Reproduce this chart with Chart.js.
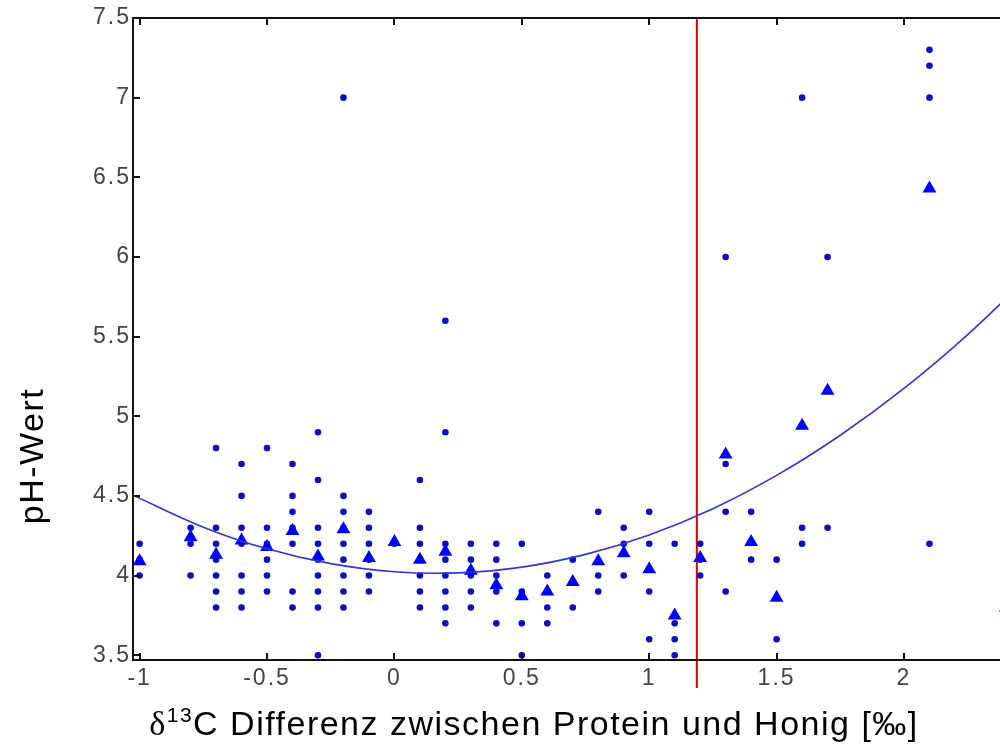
<!DOCTYPE html>
<html><head><meta charset="utf-8">
<style>
html,body{margin:0;padding:0;overflow:hidden;background:#fff;width:1000px;height:748px}
#wrap{position:relative;width:1040px;height:748px}
canvas{display:block}
</style>
<script src="https://cdn.jsdelivr.net/npm/chart.js@4.4.1/dist/chart.umd.min.js"></script>
</head><body><div id="wrap"><canvas id="c" width="1040" height="748"></canvas></div>
<script>
// δ13C difference columns (x) and individual pH values read per column
const dotX = [-1, -0.8, -0.7, -0.6, -0.5, -0.4, -0.3, -0.2, -0.1, 0, 0.1, 0.2, 0.3, 0.4, 0.5, 0.6, 0.7, 0.8, 0.9, 1.0, 1.1, 1.2, 1.3, 1.4, 1.5, 1.6, 1.7, 2.1, 2.4];
const dotY = [
  [4.2, 4.1, 4.0],
  [4.3, 4.2, 4.0],
  [4.8, 4.3, 4.2, 4.1, 4.0, 3.9, 3.8],
  [4.7, 4.5, 4.3, 4.2, 4.0, 3.9, 3.8],
  [4.8, 4.3, 4.2, 4.1, 4.0, 3.9],
  [4.7, 4.5, 4.4, 4.3, 4.2, 3.9, 3.8],
  [4.9, 4.6, 4.3, 4.2, 4.1, 4.0, 3.9, 3.8, 3.5],
  [7.0, 4.5, 4.4, 4.3, 4.2, 4.1, 4.0, 3.9, 3.8],
  [4.4, 4.3, 4.2, 4.1, 4.0, 3.9],
  [4.2],
  [4.6, 4.3, 4.2, 4.1, 4.0, 3.9, 3.8],
  [5.6, 4.9, 4.2, 4.1, 4.0, 3.9, 3.8, 3.7],
  [4.2, 4.1, 4.0, 3.9, 3.8],
  [4.2, 4.1, 4.0, 3.9, 3.7],
  [4.2, 3.9, 3.7, 3.5],
  [4.0, 3.8, 3.7],
  [4.1, 3.8],
  [4.4, 4.0, 3.9],
  [4.3, 4.2, 4.0],
  [4.4, 4.2, 3.9, 3.6],
  [4.2, 3.7, 3.6, 3.5],
  [4.2, 4.1, 4.0],
  [6.0, 4.7, 4.4, 3.9],
  [4.4, 4.1],
  [4.1, 3.6],
  [7.0, 4.3, 4.2],
  [6.0, 4.3],
  [7.3, 7.2, 7.0, 4.2],
  [3.8]
];
// column means (triangles)
const meanX = [-1, -0.8, -0.7, -0.6, -0.5, -0.4, -0.3, -0.2, -0.1, 0, 0.1, 0.2, 0.3, 0.4, 0.5, 0.6, 0.7, 0.8, 0.9, 1.0, 1.1, 1.2, 1.3, 1.4, 1.5, 1.6, 1.7, 2.1, 2.4];
const meanY = [4.09, 4.24, 4.13, 4.22, 4.18, 4.28, 4.12, 4.29, 4.11, 4.21, 4.10, 4.15, 4.03, 3.94, 3.87, 3.90, 3.96, 4.09, 4.14, 4.04, 3.75, 4.11, 4.76, 4.21, 3.86, 4.94, 5.16, 6.43, 3.80];
// fitted curve, values
const fitX = [-1.026, -0.75, -0.5, -0.25, 0, 0.25, 0.5, 0.75, 1.0, 1.25, 1.5, 1.75, 2.0, 2.25, 2.5];
const fitY = [4.505, 4.304, 4.168, 4.075, 4.024, 4.017, 4.053, 4.133, 4.255, 4.420, 4.629, 4.881, 5.175, 5.513, 5.894];
// vertical threshold line
const thresholdX = 1.187;
const thresholdYTop = 7.5;
const thresholdYBottom = 3.295;
// axes
const xTickValues = [-1, -0.5, 0, 0.5, 1, 1.5, 2];
const yTickValues = [3.5, 4, 4.5, 5, 5.5, 6, 6.5, 7, 7.5];
const xMin = -1.026, xMax = 2.5, yMin = 3.47, yMax = 7.5;
const xTitleParts = ['\u03B4', '13', 'C Differenz zwischen Protein und Honig [\u2030]'];
const yTitle = 'pH-Wert';

const dots = [];
dotX.forEach((x, i) => dotY[i].forEach(y => dots.push({x, y})));
const means = meanX.map((x, i) => ({x, y: meanY[i]}));
const fit = fitX.map((x, i) => ({x, y: fitY[i]}));
const threshold = [{x: thresholdX, y: thresholdYTop}, {x: thresholdX, y: thresholdYBottom}];

const SANS = '"Liberation Sans", Arial, Helvetica, sans-serif';

const matlabAxes = {
  id: 'matlabAxes',
  beforeDraw(chart) { chart.ctx.letterSpacing = '2px'; },
  afterDatasetsDraw(chart) {
    const {ctx, chartArea: a, scales: {x, y}} = chart;
    ctx.save();
    ctx.letterSpacing = '0px';
    ctx.strokeStyle = '#111';
    ctx.lineWidth = 2;
    ctx.beginPath();
    ctx.moveTo(a.left, a.top); ctx.lineTo(a.left, a.bottom);
    ctx.moveTo(a.left - 1, a.bottom); ctx.lineTo(a.right, a.bottom);
    ctx.moveTo(a.left - 1, a.top); ctx.lineTo(a.right, a.top);
    const tl = 7;
    xTickValues.forEach(v => {
      const px = Math.round(x.getPixelForValue(v));
      ctx.moveTo(px, a.bottom); ctx.lineTo(px, a.bottom - tl);
      ctx.moveTo(px, a.top); ctx.lineTo(px, a.top + tl);
    });
    yTickValues.forEach(v => {
      const py = Math.round(y.getPixelForValue(v));
      ctx.moveTo(a.left, py); ctx.lineTo(a.left + tl, py);
    });
    ctx.stroke();
    ctx.restore();
  },
  afterDraw(chart) {
    const {ctx} = chart;
    ctx.save();
    ctx.fillStyle = '#000';
    ctx.letterSpacing = '1.5px';
    // x title
    const big = '34px ' + SANS;
    const serif = '34px "Liberation Serif", "Times New Roman", serif';
    const small = '21px ' + SANS;
    ctx.font = serif;
    const w0 = ctx.measureText(xTitleParts[0]).width;
    ctx.font = small;
    const w1 = ctx.measureText(xTitleParts[1]).width;
    ctx.font = big;
    const w2 = ctx.measureText(xTitleParts[2]).width;
    const total = w0 + w1 + w2;
    let tx = 534 - total / 2;
    const base = 735;
    ctx.textBaseline = 'alphabetic';
    ctx.textAlign = 'left';
    ctx.font = serif;
    ctx.fillText(xTitleParts[0], tx, base); tx += w0;
    ctx.font = small;
    ctx.fillText(xTitleParts[1], tx, base - 13); tx += w1;
    ctx.font = big;
    ctx.fillText(xTitleParts[2], tx, base);
    // y title
    ctx.translate(43, 456);
    ctx.rotate(-Math.PI / 2);
    ctx.textAlign = 'center';
    ctx.fillText(yTitle, 0, 0);
    ctx.restore();
  }
};

new Chart(document.getElementById('c'), {
  type: 'scatter',
  data: {
    datasets: [
      {data: threshold, showLine: true, borderColor: '#e00000', borderWidth: 2, pointRadius: 0, clip: false, order: 4},
      {data: dots, backgroundColor: '#0c0cc4', borderWidth: 0, pointRadius: 3.3, order: 3},
      {data: means, pointStyle: 'triangle', backgroundColor: '#0000ff', borderWidth: 0, pointRadius: 8, order: 2},
      {data: fit, showLine: true, borderColor: '#3434d6', borderWidth: 1.6, pointRadius: 0, tension: 0.4, order: 1}
    ]
  },
  options: {
    responsive: false,
    animation: false,
    devicePixelRatio: 1,
    layout: {padding: {left: 0, top: 18, right: 8.6, bottom: 0}},
    plugins: {legend: {display: false}, tooltip: {enabled: false}},
    scales: {
      x: {
        type: 'linear', min: xMin, max: xMax,
        grid: {display: false, drawTicks: false}, border: {display: false},
        afterBuildTicks: s => { s.ticks = xTickValues.map(v => ({value: v})); },
        afterFit: s => { s.height = 88; },
        ticks: {font: {size: 23, family: SANS}, color: '#444', padding: 5, maxRotation: 0, autoSkip: false,
                callback: v => String(v)}
      },
      y: {
        type: 'linear', min: yMin, max: yMax,
        grid: {display: false, drawTicks: false}, border: {display: false},
        afterBuildTicks: s => { s.ticks = yTickValues.map(v => ({value: v})); },
        afterFit: s => { s.width = 133; },
        ticks: {font: {size: 23, family: SANS}, color: '#444', padding: 2, autoSkip: false,
                callback: v => String(v)}
      }
    }
  },
  plugins: [matlabAxes]
});
</script></body></html>
